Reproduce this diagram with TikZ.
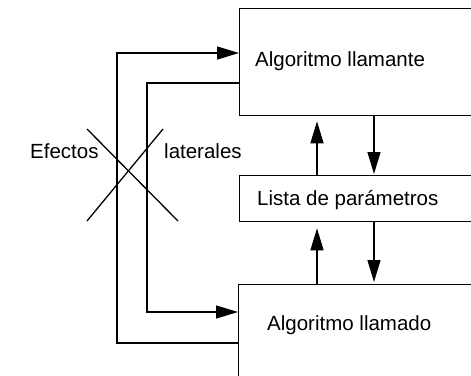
\documentclass[tikz,border=0pt]{standalone}
\usepackage{fontspec}
\setmainfont{Liberation Sans}
\usetikzlibrary{arrows.meta}
\begin{document}
\begin{tikzpicture}[x=1pt,y=-1pt,
  box/.style={draw,line width=1.3pt,minimum width=270pt,anchor=north west,inner sep=0pt},
  lbl/.style={anchor=base west,inner sep=0pt,font=\fontsize{20.5}{24}\selectfont},
  ln/.style={line width=1.3pt},
  arr/.style={ln,-{Triangle[length=22pt,width=13pt]}}]
\clip (0,0) rectangle (471,375);
\node[box,minimum height=107pt] (top) at (239,8) {};
\node[box,minimum height=46pt] (mid) at (239,175) {};
\node[box,minimum height=130pt] (bot) at (238,284) {};
\node[lbl] (t1) at (255,66) {Algoritmo llamante};
\node[lbl] (t2) at (257,205) {Lista de parámetros};
\node[lbl] (t3) at (267,330) {Algoritmo llamado};
\node[lbl] (ef) at (30,158) {Efectos};
\node[lbl] (la) at (164,158) {laterales};
\coordinate (ax) at (317,0);
\coordinate (bx) at (374,0);
\draw[arr,shorten >=5pt] (mid.north -| ax) -- (top.south -| ax);
\draw[arr,shorten >=1pt] (top.south -| bx) -- (mid.north -| bx);
\draw[arr,shorten >=6pt] (bot.north -| ax) -- (mid.south -| ax);
\draw[arr,shorten >=2pt] (mid.south -| bx) -- (bot.north -| bx);
\coordinate (o1) at (117,343);
\coordinate (o2) at (117,53);
\draw[arr] (bot.west |- o1) -- (o1) -- (o2) -- (top.west |- o2);
\coordinate (i1) at (147,83);
\coordinate (i2) at (147,312);
\draw[arr] (top.west |- i1) -- (i1) -- (i2) -- (bot.west |- i2);
\coordinate (c1) at (87,129);
\coordinate (c2) at (178,221);
\coordinate (c3) at (163,129);
\coordinate (c4) at (87,221);
\draw[ln] (c1) -- (c2);
\draw[ln] (c3) -- (c4);
\end{tikzpicture}
\end{document}
